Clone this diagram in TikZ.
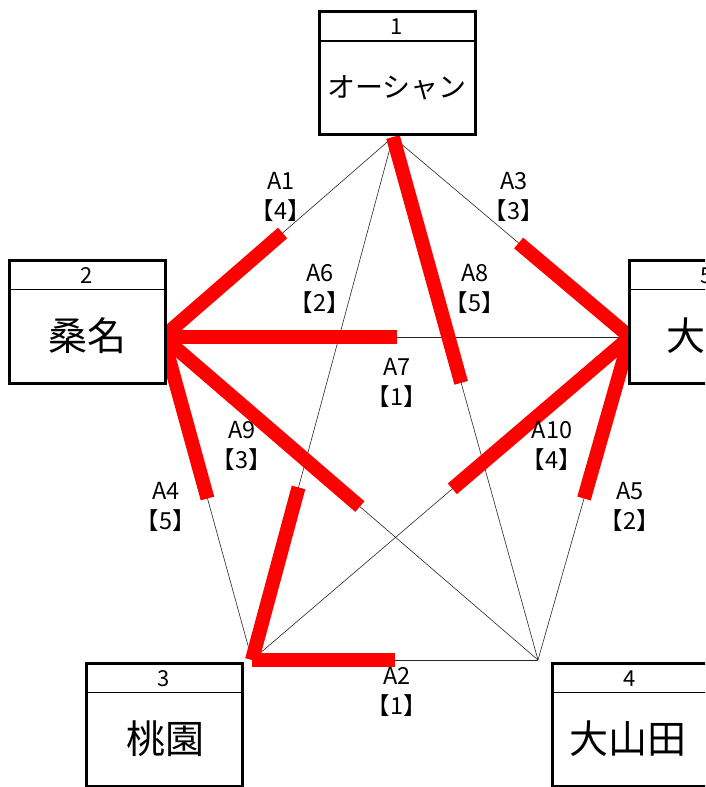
\documentclass[tikz,border=0pt]{standalone}
\usepackage{fontspec}
\setmainfont{Noto Sans CJK JP}
\usetikzlibrary{calc}
\begin{document}
\begin{tikzpicture}[x=1pt,y=-1pt,
  frame/.style={draw, fill=white, line width=3pt, minimum width=156pt, minimum height=123pt, inner sep=0pt},
  divider/.style={line width=1.2pt},
  numtext/.style={font=\fontsize{22}{26}\selectfont, inner sep=0pt},
  nametext/.style={font=\fontsize{39}{44}\selectfont, inner sep=0pt},
  kanatext/.style={font=\fontsize{28}{32}\selectfont, inner sep=0pt},
  lab/.style={align=center, font=\fontsize{23.5}{30}\selectfont, inner sep=0pt},
  thinedge/.style={line width=0.6pt, draw=black!85},
  hot/.style={line width=14pt, draw=red, line cap=butt}]
\useasboundingbox (0,0) rectangle (705,787);
\begin{scope}
\clip (0,0) rectangle (705,787);
% vertices
\coordinate (v1) at (393,137);
\coordinate (v2) at (163,337);
\coordinate (v3) at (252,660);
\coordinate (v4) at (538,660);
\coordinate (v5) at (630,337);
% thin edges
\draw[thinedge] (v1) -- (v2);
\draw[thinedge] (v1) -- (v5);
\draw[thinedge] (v2) -- (v5);
\draw[thinedge] (v1) -- (v4);
\draw[thinedge] (v1) -- (v3);
\draw[thinedge] (v2) -- (v4);
\draw[thinedge] (v5) -- (v3);
\draw[thinedge] (v2) -- (v3);
\draw[thinedge] (v5) -- (v4);
\draw[thinedge] (v3) -- (v4);
% red segments
\draw[hot] (v2) -- ($(v2)!0.52!(v1)$);
\draw[hot] (v5) -- ($(v5)!0.47!(v1)$);
\draw[hot] (v2) -- ($(v2)!0.5!(v5)$);
\draw[hot] (v1) -- ($(v1)!0.47!(v4)$);
\draw[hot] (v2) -- ($(v2)!0.525!(v4)$);
\draw[hot] (v5) -- ($(v5)!0.47!(v3)$);
\draw[hot] (v2) -- ($(v2)!0.5!(v3)$);
\draw[hot] (v5) -- ($(v5)!0.5!(v4)$);
\draw[hot] (v3) -- ($(v3)!0.33!(v1)$);
\draw[hot] (v3) -- ($(v3)!0.5!(v4)$);
% boxes
\node[frame] (b1) at (397,73) {};
\draw[divider] ($(b1.north west)+(0,31)$) -- ($(b1.north east)+(0,31)$);
\node[numtext] (n1) at (397,27) {1};
\node[kanatext] (t1) at (397,88) {オーシャン};

\node[frame] (b2) at (87,321.5) {};
\draw[divider] ($(b2.north west)+(0,31)$) -- ($(b2.north east)+(0,31)$);
\node[numtext] (n2) at (87,276) {2};
\node[nametext] (t2) at (87,336) {桑名};

\node[frame] (b5) at (707,321.5) {};
\draw[divider] ($(b5.north west)+(0,31)$) -- ($(b5.north east)+(0,31)$);
\node[numtext] (n5) at (707,276) {5};
\node[nametext] (t5) at (686,336) {大};

\node[frame] (b3) at (164,724.5) {};
\draw[divider] ($(b3.north west)+(0,31)$) -- ($(b3.north east)+(0,31)$);
\node[numtext] (n3) at (164,679) {3};
\node[nametext] (t3) at (165,739) {桃園};

\node[frame] (b4) at (630,724.5) {};
\draw[divider] ($(b4.north west)+(0,31)$) -- ($(b4.north east)+(0,31)$);
\node[numtext] (n4) at (630,679) {4};
\node[nametext] (t4) at (628,739) {大山田};
\end{scope}
% labels
\node[lab] (a1) at (281,197) {A1\\【4】};
\node[lab] (a3) at (514,197) {A3\\【3】};
\node[lab] (a6) at (320,289) {A6\\【2】};
\node[lab] (a8) at (475,289) {A8\\【5】};
\node[lab] (a7) at (397,383) {A7\\【1】};
\node[lab] (a9) at (242,446) {A9\\【3】};
\node[lab] (a10) at (552,446) {A10\\【4】};
\node[lab] (a4) at (166,507) {A4\\【5】};
\node[lab] (a5) at (630,507) {A5\\【2】};
\node[lab] (a2) at (397,692) {A2\\【1】};
\end{tikzpicture}
\end{document}
